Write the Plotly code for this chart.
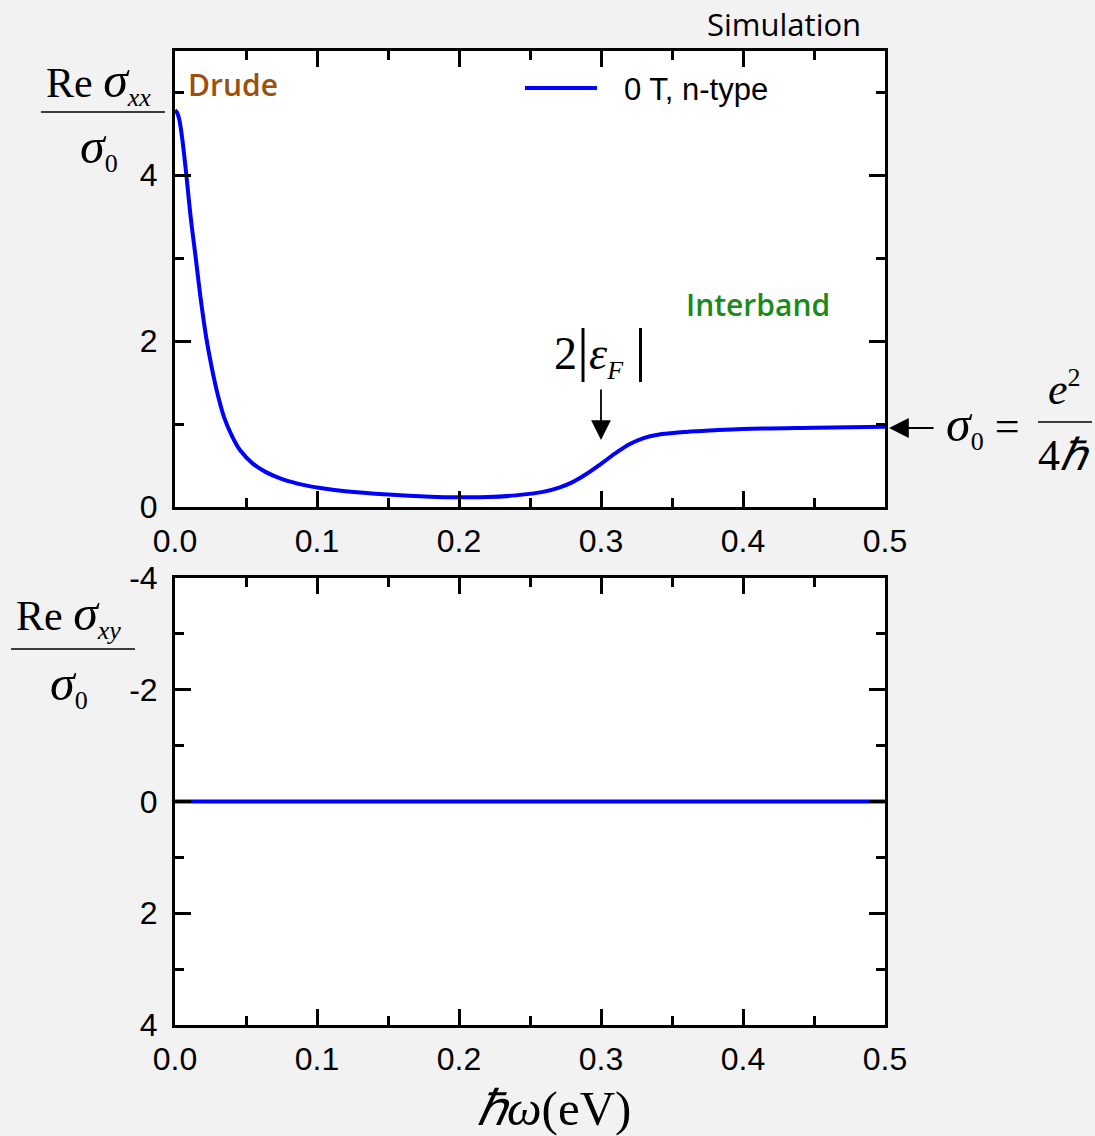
import plotly.graph_objects as go

# ---------------- data ----------------
energy_eV = [0.0, 0.0015, 0.003, 0.005, 0.0075, 0.011, 0.0146, 0.018, 0.022, 0.026,
             0.03, 0.0346, 0.04, 0.046, 0.055, 0.064, 0.075, 0.092, 0.1, 0.12,
             0.15, 0.18, 0.2, 0.22, 0.24, 0.26, 0.27, 0.28, 0.29, 0.3,
             0.31, 0.32, 0.33, 0.34, 0.36, 0.38, 0.4, 0.45, 0.5]
re_sxx = [4.78, 4.75, 4.67, 4.45, 4.08, 3.5, 3.0, 2.52, 2.04, 1.67,
          1.36, 1.08, 0.86, 0.68, 0.52, 0.42, 0.34, 0.26, 0.235, 0.19,
          0.15, 0.125, 0.118, 0.12, 0.14, 0.185, 0.23, 0.30, 0.40, 0.52,
          0.645, 0.755, 0.83, 0.87, 0.905, 0.925, 0.94, 0.955, 0.967]

xy_energy = [0.0, 0.1, 0.2, 0.3, 0.4, 0.5]
re_sxy = [0.0, 0.0, 0.0, 0.0, 0.0, 0.0]

x_ticks = [0.0, 0.1, 0.2, 0.3, 0.4, 0.5]
x_ticklabels = ["0.0", "0.1", "0.2", "0.3", "0.4", "0.5"]
y_top_ticks = [0, 2, 4]
y_top_labels = ["0", "2", "4"]
y_bot_ticks = [-4, -2, 0, 2, 4]
y_bot_labels = ["-4", "-2", "0", "2", "4"]
legend_label = "0 T, n-type"

W, H = 1095, 1136
def fx(px):
    return px / W
def fy(py):
    return 1 - py / H

BLUE = "#0000ff"
SANS = "Liberation Sans, Arial, sans-serif"
SERIF = "Liberation Serif, Times New Roman, serif"
LUC = "Open Sans, DejaVu Sans, sans-serif"

fig = go.Figure()
fig.add_trace(go.Scatter(x=energy_eV, y=re_sxx, mode="lines", name=legend_label,
                         line=dict(color=BLUE, width=4, shape="spline", smoothing=1.0),
                         xaxis="x", yaxis="y", showlegend=False))
fig.add_trace(go.Scatter(x=xy_energy, y=re_sxy, mode="lines", name=legend_label,
                         line=dict(color=BLUE, width=4),
                         xaxis="x2", yaxis="y2", showlegend=False))

dom_x = [fx(175), fx(885)]
common_x = dict(range=[0, 0.5], tickvals=x_ticks, ticktext=x_ticklabels,
                ticks="inside", ticklen=16, tickwidth=2.5, tickcolor="black",
                minor=dict(ticks="inside", ticklen=9, tickwidth=2.5, dtick=0.05, tickcolor="black"),
                showline=True, linecolor="black", linewidth=3, mirror="allticks",
                showgrid=False, zeroline=False, domain=dom_x, automargin=False,
                tickfont=dict(family=SANS, size=32, color="black"),
                ticklabelstandoff=4)
common_y = dict(ticks="inside", ticklen=16, tickwidth=2.5, tickcolor="black",
                minor=dict(ticks="inside", ticklen=9, tickwidth=2.5, dtick=1, tickcolor="black"),
                showline=True, linecolor="black", linewidth=3, mirror="allticks",
                showgrid=False, zeroline=False, automargin=False,
                tickfont=dict(family=SANS, size=32, color="black"),
                ticklabelstandoff=8)

fig.update_layout(
    width=W, height=H,
    margin=dict(l=0, r=0, t=0, b=0, autoexpand=False),
    paper_bgcolor="#f2f2f2", plot_bgcolor="white",
    xaxis=dict(**common_x, anchor="y"),
    yaxis=dict(**common_y, range=[0, 5.494], tickvals=y_top_ticks, ticktext=y_top_labels,
               domain=[fy(507), fy(51)], anchor="x"),
    xaxis2=dict(**common_x, anchor="y2"),
    yaxis2=dict(**common_y, range=[4, -4], tickvals=y_bot_ticks, ticktext=y_bot_labels,
                domain=[fy(1025), fy(578)], anchor="x2"),
    showlegend=False,
)

ann = []
def text(px, py, s, size, family, color="black", xanchor="center", weight="normal"):
    ann.append(dict(x=fx(px), y=fy(py), xref="paper", yref="paper", text=s,
                    showarrow=False, xanchor=xanchor, yanchor="middle",
                    font=dict(family=family, size=size, color=color, weight=weight)))

SUB = '<span style="font-size:26px">{}</span>'
SIG = '<span style="font-size:50px"><i>σ</i></span>'
BAR = '<span style="font-size:60px">|</span>'

# labels in the top panel
text(863, 24, "Simulation", 31, LUC, xanchor="right")
text(186, 84, "Drude", 30, LUC, color="#9c500e", xanchor="left", weight=600)
text(684, 304, "Interband", 30, LUC, color="#1a8a1a", xanchor="left", weight=600)

# manual legend
text(622, 89, legend_label, 31, SANS, xanchor="left")

# y-axis titles (fractions)
text(44, 82, "Re " + SIG + "<sub>" + SUB.format("<i>xx</i>") + "</sub>", 42, SERIF, xanchor="left")
text(78, 148, SIG + "<sub>" + SUB.format("0") + "</sub>", 42, SERIF, xanchor="left")
text(14, 615, "Re " + SIG + "<sub>" + SUB.format("<i>xy</i>") + "</sub>", 42, SERIF, xanchor="left")
text(48, 685, SIG + "<sub>" + SUB.format("0") + "</sub>", 42, SERIF, xanchor="left")

# 2|eps_F|
text(552, 350, "2" + BAR + "<i>ε</i><sub>" + SUB.format("<i>F</i>") + "</sub> " + BAR, 46, SERIF, xanchor="left")

# sigma0 = e^2/4hbar
text(944, 426, SIG + "<sub>" + SUB.format("0") + "</sub> =", 44, SERIF, xanchor="left")
text(1064, 388, "<i>e</i><sup>" + SUB.format("2") + "</sup>", 44, SERIF)
text(1064, 455, "4<i>ℏ</i>", 44, SERIF)

# x-axis title
text(554, 1108, "<i>ℏω</i>(eV)", 49, SERIF)

# arrows
ann.append(dict(x=0.3, y=(507 - 440) / 83.0, xref="x", yref="y", ax=0, ay=-52,
                axref="pixel", ayref="pixel", text="", showarrow=True,
                arrowhead=2, arrowsize=2.2, arrowwidth=1.8, arrowcolor="black", standoff=0))
ann.append(dict(x=fx(889), y=fy(428), xref="paper", yref="paper", ax=46, ay=0,
                text="", showarrow=True,
                arrowhead=2, arrowsize=2.2, arrowwidth=1.8, arrowcolor="black", standoff=0))
fig.update_layout(annotations=ann)

shapes = [
    dict(type="line", xref="paper", yref="paper", x0=fx(525), x1=fx(597), y0=fy(88), y1=fy(88),
         line=dict(color=BLUE, width=4)),
    dict(type="line", xref="paper", yref="paper", x0=fx(41), x1=fx(165), y0=fy(112), y1=fy(112),
         line=dict(color="black", width=1.5)),
    dict(type="line", xref="paper", yref="paper", x0=fx(11), x1=fx(135), y0=fy(649), y1=fy(649),
         line=dict(color="black", width=1.5)),
    dict(type="line", xref="paper", yref="paper", x0=fx(1038), x1=fx(1092), y0=fy(422), y1=fy(422),
         line=dict(color="black", width=1.5)),
]
fig.update_layout(shapes=shapes)

fig.write_html("out.html")
